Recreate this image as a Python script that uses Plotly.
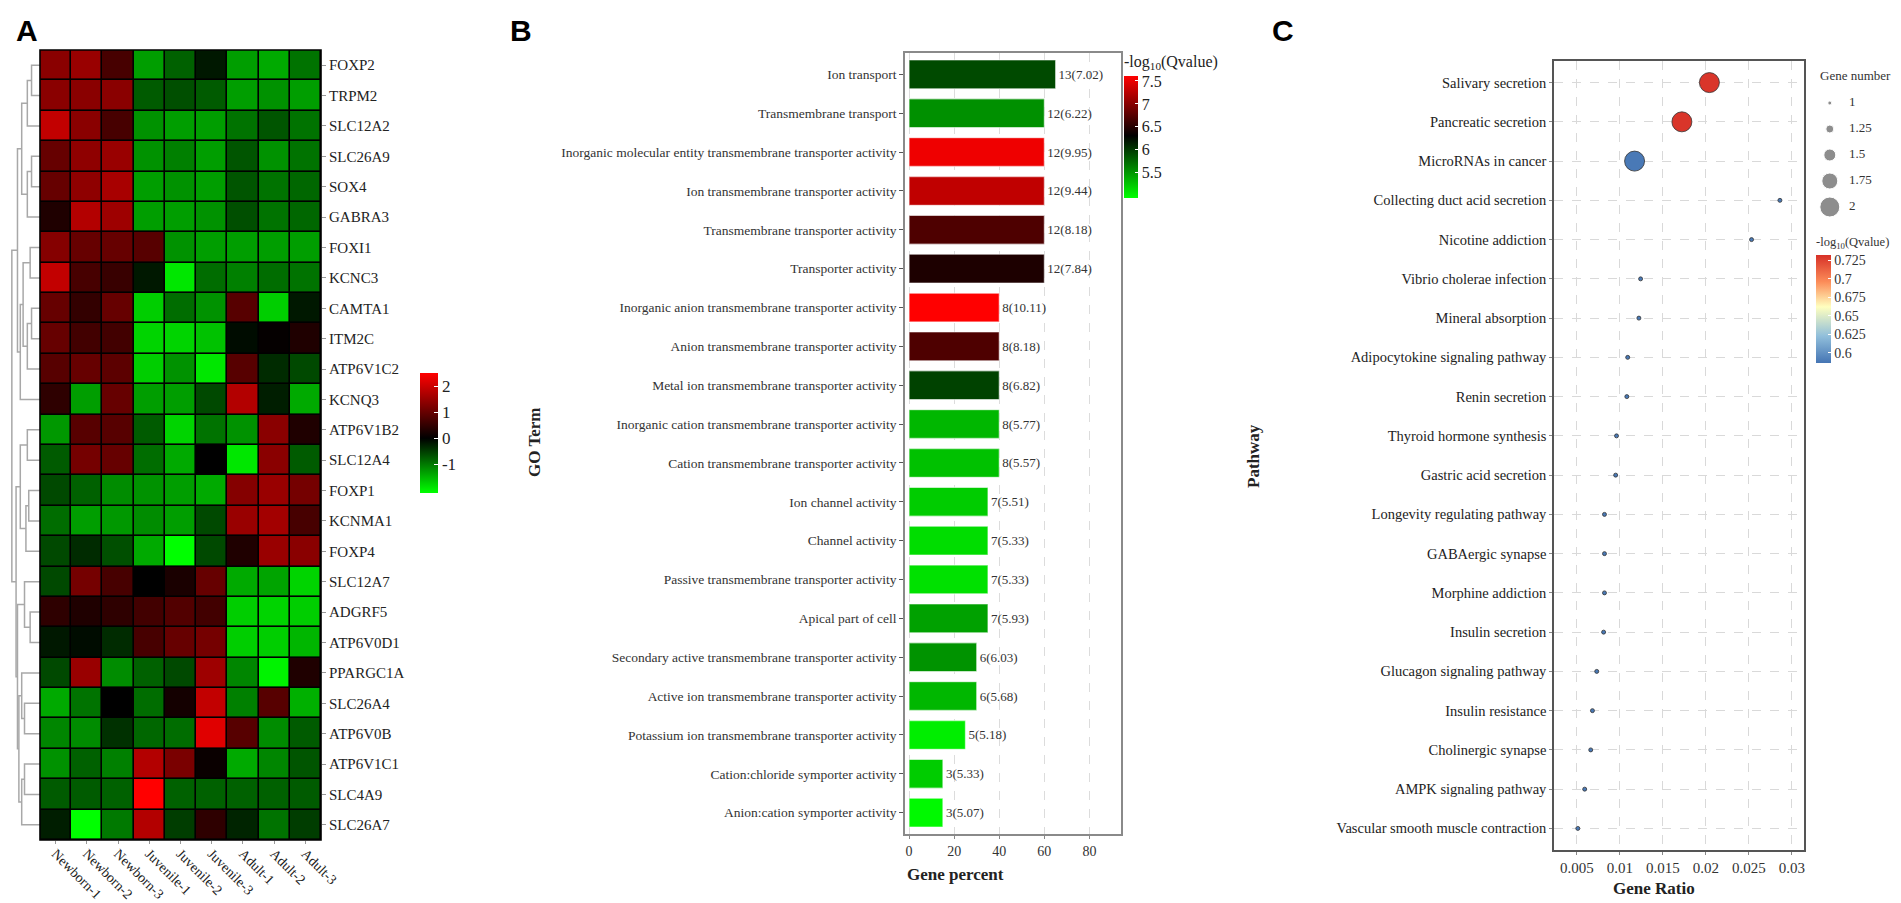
import plotly.graph_objects as go

W, H = 1901, 903
SERIF = "Liberation Serif, DejaVu Serif, serif"
SANS = "Liberation Sans, Arial, sans-serif"


def fx(p):
    return p / W


def fy(p):
    return 1 - p / H


# ---------------- Panel A: expression heatmap ----------------
samples = ["Newborn-1", "Newborn-2", "Newborn-3", "Juvenile-1", "Juvenile-2",
           "Juvenile-3", "Adult-1", "Adult-2", "Adult-3"]
genes = ["FOXP2", "TRPM2", "SLC12A2", "SLC26A9", "SOX4", "GABRA3", "FOXI1", "KCNC3",
         "CAMTA1", "ITM2C", "ATP6V1C2", "KCNQ3", "ATP6V1B2", "SLC12A4", "FOXP1", "KCNMA1",
         "FOXP4", "SLC12A7", "ADGRF5", "ATP6V0D1", "PPARGC1A", "SLC26A4", "ATP6V0B",
         "ATP6V1C1", "SLC4A9", "SLC26A7"]
expr = [
    [1.35, 1.5, 0.7, -1.3, -0.8, -0.2, -1.3, -1.4, -0.95],
    [1.35, 1.35, 1.35, -0.75, -0.65, -0.75, -1.3, -1.2, -1.3],
    [1.9, 1.35, 0.7, -1.2, -1.3, -1.3, -0.95, -0.7, -0.95],
    [1.0, 1.4, 1.5, -1.2, -1.05, -1.3, -0.7, -1.2, -0.95],
    [1.0, 1.4, 1.65, -1.3, -1.2, -1.3, -0.7, -0.95, -0.85],
    [0.3, 1.75, 1.55, -1.3, -1.3, -1.2, -0.65, -0.95, -0.85],
    [1.3, 1.0, 1.0, 0.85, -1.2, -1.3, -1.3, -1.3, -1.3],
    [1.9, 0.7, 0.55, -0.2, -1.9, -0.9, -1.05, -0.9, -0.95],
    [1.0, 0.5, 1.0, -1.7, -0.9, -1.2, 0.85, -1.7, -0.2],
    [1.0, 0.65, 0.65, -1.75, -1.75, -1.6, -0.1, 0.05, 0.3],
    [0.85, 1.0, 0.9, -1.7, -1.2, -1.9, 0.85, -0.35, -0.6],
    [0.45, -1.3, 1.0, -1.3, -1.3, -0.6, 1.75, -0.25, -1.4],
    [-1.25, 0.85, 0.85, -0.75, -1.75, -0.95, -1.2, 1.35, 0.3],
    [-0.75, 1.15, 1.0, -0.9, -1.4, 0.0, -1.9, 1.35, -0.75],
    [-0.6, -0.8, -1.15, -1.2, -1.3, -1.4, 1.3, 1.5, 1.15],
    [-0.9, -1.3, -1.25, -1.15, -1.3, -0.6, 1.5, 1.6, 0.7],
    [-0.6, -0.35, -0.65, -1.4, -2.1, -0.6, 0.3, 1.5, 1.35],
    [-0.6, 1.15, 0.7, 0.0, 0.25, 1.0, -1.4, -1.35, -1.75],
    [0.45, 0.3, 0.45, 0.65, 0.8, 0.65, -1.7, -1.75, -1.7],
    [-0.2, -0.1, -0.35, 0.7, 1.0, 1.15, -1.7, -1.7, -1.5],
    [-0.6, 1.5, -1.15, -0.8, -0.6, 1.55, -1.1, -2.0, 0.3],
    [-1.4, -0.95, 0.0, -0.9, 0.2, 1.9, -1.05, 0.85, -1.45],
    [-1.1, -1.15, -0.4, -0.85, -0.9, 2.2, 0.85, -1.15, -0.75],
    [-1.2, -0.8, -1.05, 1.75, 1.2, 0.1, -1.4, -1.1, -0.7],
    [-0.75, -0.75, -0.8, 2.5, -0.8, -0.8, -0.8, -0.8, -0.75],
    [-0.25, -2.15, -1.0, 1.75, -0.5, 0.45, -0.3, -0.95, -0.5],
]

# row clustering: (left, right, height); ints refer to earlier merges
row_merges = [
    ("FOXP2", "TRPM2", 3.0),
    (0, "SLC12A2", 4.5),
    ("SLC26A9", "SOX4", 3.0),
    (2, "GABRA3", 4.5),
    (1, 3, 6.5),
    ("FOXI1", "KCNC3", 3.5),
    ("CAMTA1", "ITM2C", 3.0),
    (6, "ATP6V1C2", 4.5),
    (5, 7, 6.0),
    (8, "KCNQ3", 7.0),
    (4, 9, 8.0),
    ("ATP6V1B2", "SLC12A4", 4.5),
    ("FOXP1", "KCNMA1", 4.0),
    (12, "FOXP4", 5.0),
    (11, 13, 7.0),
    ("ADGRF5", "ATP6V0D1", 3.5),
    ("SLC12A7", 15, 5.5),
    ("SLC26A4", "ATP6V0B", 5.5),
    ("PPARGC1A", 17, 6.5),
    ("ATP6V1C1", "SLC4A9", 5.5),
    (19, "SLC26A7", 6.5),
    (18, 20, 7.5),
    (16, 21, 8.0),
    (14, 22, 8.5),
    (10, 23, 10.0),
]

# ---------------- Panel B: GO enrichment ----------------
go_terms = ["Ion transport", "Transmembrane transport",
            "Inorganic molecular entity transmembrane transporter activity",
            "Ion transmembrane transporter activity", "Transmembrane transporter activity",
            "Transporter activity", "Inorganic anion transmembrane transporter activity",
            "Anion transmembrane transporter activity",
            "Metal ion transmembrane transporter activity",
            "Inorganic cation transmembrane transporter activity",
            "Cation transmembrane transporter activity", "Ion channel activity",
            "Channel activity", "Passive transmembrane transporter activity",
            "Apical part of cell", "Secondary active transmembrane transporter activity",
            "Active ion transmembrane transporter activity",
            "Potassium ion transmembrane transporter activity",
            "Cation:chloride symporter activity", "Anion:cation symporter activity"]
go_counts = [13, 12, 12, 12, 12, 12, 8, 8, 8, 8, 8, 7, 7, 7, 7, 6, 6, 5, 3, 3]
go_percent = [65, 60, 60, 60, 60, 60, 40, 40, 40, 40, 40, 35, 35, 35, 35, 30, 30, 25, 15, 15]
go_enrich = ["7.02", "6.22", "9.95", "9.44", "8.18", "7.84", "10.11", "8.18", "6.82", "5.77",
             "5.57", "5.51", "5.33", "5.33", "5.93", "6.03", "5.68", "5.18", "5.33", "5.07"]
go_neglogq = [5.91, 5.54, 7.52, 7.28, 6.7, 6.45, 7.6, 6.7, 5.95, 5.33,
              5.28, 5.22, 5.13, 5.11, 5.45, 5.52, 5.33, 5.04, 5.22, 4.98]

# ---------------- Panel C: KEGG bubble ----------------
pathways = ["Salivary secretion", "Pancreatic secretion", "MicroRNAs in cancer",
            "Collecting duct acid secretion", "Nicotine addiction", "Vibrio cholerae infection",
            "Mineral absorption", "Adipocytokine signaling pathway", "Renin secretion",
            "Thyroid hormone synthesis", "Gastric acid secretion", "Longevity regulating pathway",
            "GABAergic synapse", "Morphine addiction", "Insulin secretion",
            "Glucagon signaling pathway", "Insulin resistance", "Cholinergic synapse",
            "AMPK signaling pathway", "Vascular smooth muscle contraction"]
gene_ratio = [0.0204, 0.0172, 0.0117, 0.0286, 0.0253, 0.0124, 0.0122, 0.0109, 0.0108,
              0.0096, 0.0095, 0.0082, 0.0082, 0.0082, 0.0081, 0.0073, 0.0068, 0.0066,
              0.0059, 0.0051]
gene_number = [2, 2, 2, 1, 1, 1, 1, 1, 1, 1, 1, 1, 1, 1, 1, 1, 1, 1, 1, 1]
path_neglogq = [0.731, 0.731, 0.588, 0.588, 0.588, 0.588, 0.588, 0.588, 0.588, 0.588,
                0.588, 0.588, 0.588, 0.588, 0.588, 0.588, 0.588, 0.588, 0.588, 0.588]
size_levels = [1, 1.25, 1.5, 1.75, 2]


def dot_size(n):
    return 4 + 16 * (n - 1)


# dendrogram segments
dend_x, dend_y = [], []
nodes = []


def node_pos(ref):
    if isinstance(ref, str):
        return genes.index(ref), 0.0
    return nodes[ref]


for a, b, h in row_merges:
    ya, ha = node_pos(a)
    yb, hb = node_pos(b)
    dend_x += [ha, h, h, hb, None]
    dend_y += [ya, ya, yb, yb, None]
    nodes.append(((ya + yb) / 2, h))

fig = go.Figure()

grn_blk_red_A = [[0, "#00ff00"], [2.1 / 4.6, "#000000"], [1, "#ff0000"]]
fig.add_trace(go.Heatmap(
    z=expr, x=samples, y=genes, zmin=-2.1, zmax=2.5, colorscale=grn_blk_red_A,
    xgap=1.6, ygap=1.6, xaxis="x", yaxis="y", hoverinfo="skip",
    colorbar=dict(x=fx(412), xanchor="left", y=fy(425), yanchor="middle",
                  len=120 / H, thickness=18, outlinewidth=0, xpad=0, ypad=0,
                  tickvals=[-1, 0, 1, 2], ticktext=["-1", "0", "1", "2"],
                  ticks="inside", ticklen=4, tickcolor="white",
                  tickfont=dict(family=SERIF, size=17, color="#222")),
))
fig.add_trace(go.Scatter(x=dend_x, y=dend_y, mode="lines", xaxis="x2", yaxis="y2",
                         line=dict(color="#a8a8a8", width=1.5), hoverinfo="skip"))

grn_blk_red_B = [[0, "#00ff00"], [0.51, "#000000"], [1, "#ff0000"]]
go_labels = [f"{c}({e})" for c, e in zip(go_counts, go_enrich)]
fig.add_trace(go.Bar(
    x=go_percent, y=go_terms, orientation="h", xaxis="x3", yaxis="y3", width=0.74,
    text=go_labels, textposition="outside", cliponaxis=False,
    textfont=dict(family=SERIF, size=13, color="#333"),
    marker=dict(color=go_neglogq, colorscale=grn_blk_red_B, cmin=4.95, cmax=7.6,
                line=dict(color="rgba(255,255,255,0.55)", width=1.2),
                colorbar=dict(x=fx(1116), xanchor="left", y=fy(44), yanchor="top",
                              len=146 / H, thickness=14, outlinewidth=0, xpad=0, ypad=0,
                              title=dict(text="-log<sub>10</sub>(Qvalue)", side="top",
                                         font=dict(family=SERIF, size=16, color="#222")),
                              tickvals=[5.5, 6, 6.5, 7, 7.5], ticktext=["5.5", "6", "6.5", "7", "7.5"],
                              ticks="inside", ticklen=3, tickcolor="white",
                              tickfont=dict(family=SERIF, size=16, color="#222"))),
))

rdylbu = [[0, "#4575b4"], [0.25, "#91bfdb"], [0.52, "#ffffbf"], [0.75, "#fc8d59"], [1, "#d73027"]]
fig.add_trace(go.Scatter(
    x=gene_ratio, y=pathways, mode="markers", xaxis="x4", yaxis="y4",
    marker=dict(size=[dot_size(n) for n in gene_number], color=path_neglogq,
                colorscale=rdylbu, cmin=0.586, cmax=0.733, opacity=1,
                line=dict(color="#333", width=0.8),
                colorbar=dict(x=fx(1808), xanchor="left", y=fy(226), yanchor="top",
                              len=129 / H, thickness=15, outlinewidth=0, xpad=0, ypad=0,
                              title=dict(text="-log<sub>10</sub>(Qvalue)", side="top",
                                         font=dict(family=SERIF, size=12.5, color="#333")),
                              tickvals=[0.6, 0.625, 0.65, 0.675, 0.7, 0.725],
                              ticktext=["0.6", "0.625", "0.65", "0.675", "0.7", "0.725"],
                              ticks="inside", ticklen=3, tickcolor="white",
                              tickfont=dict(family=SERIF, size=14, color="#333"))),
))

# size legend for panel C
fig.add_trace(go.Scatter(
    x=[0.15] * len(size_levels), y=size_levels, mode="markers", xaxis="x5", yaxis="y5",
    marker=dict(size=[dot_size(n) for n in size_levels], color="#5e5e5e"), hoverinfo="skip"))
fig.add_trace(go.Scatter(
    x=[0.36] * len(size_levels), y=size_levels, mode="text", xaxis="x5", yaxis="y5",
    text=[f"{n:g}" for n in size_levels], textposition="middle right",
    textfont=dict(family=SERIF, size=13, color="#333"), hoverinfo="skip"))

tick_font = dict(family=SERIF, size=15, color="#222")
fig.update_layout(
    width=W, height=H, margin=dict(l=0, r=0, t=0, b=0, autoexpand=False),
    paper_bgcolor="white", plot_bgcolor="white", showlegend=False,
    xaxis=dict(domain=[fx(32), fx(313)], range=[-0.5, 8.5], tickangle=45, anchor="y",
               ticks="outside", ticklen=3, tickcolor="#999", ticklabelstandoff=-4,
               tickfont=dict(family=SERIF, size=14, color="#222"),
               showgrid=False, zeroline=False, automargin=False),
    yaxis=dict(domain=[fy(832), fy(42)], range=[25.5, -0.5], side="right", anchor="x",
               ticks="outside", ticklen=4, tickcolor="#999", tickfont=tick_font,
               showgrid=False, zeroline=False, automargin=False),
    xaxis2=dict(domain=[fx(3), fx(32)], range=[10.3, 0], visible=False, anchor="y2"),
    yaxis2=dict(domain=[fy(832), fy(42)], range=[25.5, -0.5], visible=False, anchor="x2"),
    xaxis3=dict(domain=[fx(897), fx(1113)], range=[-1.8, 94], tickvals=[0, 20, 40, 60, 80],
                anchor="y3", automargin=False,
                showgrid=True, gridcolor="#dcdcdc", griddash="dash", gridwidth=1,
                zeroline=False, showline=True, mirror=True, linecolor="#8a8a8a", linewidth=1.5,
                ticks="outside", ticklen=3, tickcolor="#888",
                tickfont=dict(family=SERIF, size=14, color="#333")),
    yaxis3=dict(domain=[fy(826), fy(45)], range=[19.55, -0.55], showgrid=False,
                anchor="x3", automargin=False,
                zeroline=False, showline=True, mirror=True, linecolor="#8a8a8a", linewidth=1.5,
                ticks="outside", ticklen=4, tickcolor="#555",
                tickfont=dict(family=SERIF, size=13.5, color="#333")),
    xaxis4=dict(domain=[fx(1546), fx(1796)], range=[0.00233, 0.0314],
                anchor="y4", automargin=False,
                tickvals=[0.005, 0.01, 0.015, 0.02, 0.025, 0.03],
                ticktext=["0.005", "0.01", "0.015", "0.02", "0.025", "0.03"],
                showgrid=True, gridcolor="#d9d9d9", griddash="dash", gridwidth=1,
                zeroline=False, showline=True, mirror=True, linecolor="#555", linewidth=1.5,
                ticks="outside", ticklen=3, tickcolor="#888",
                tickfont=dict(family=SERIF, size=15, color="#333")),
    yaxis4=dict(domain=[fy(842), fy(53)], range=[19.55, -0.55],
                anchor="x4", automargin=False,
                showgrid=True, gridcolor="#d9d9d9", griddash="dash", gridwidth=1,
                zeroline=False, showline=True, mirror=True, linecolor="#555", linewidth=1.5,
                ticks="outside", ticklen=3, tickcolor="#888",
                tickfont=dict(family=SERIF, size=14.5, color="#222")),
    xaxis5=dict(domain=[fx(1808), fx(1900)], range=[0, 1], visible=False, anchor="y5"),
    yaxis5=dict(domain=[fy(225), fy(69)], range=[2.25, 0.75], visible=False, anchor="x5"),
)

# black cell borders / frame behind the heatmap
fig.add_shape(type="rect", xref="x domain", yref="y domain", x0=0, x1=1, y0=0, y1=1,
              fillcolor="black", line=dict(width=0), layer="below")
fig.add_shape(type="rect", xref="x domain", yref="y domain", x0=0, x1=1, y0=0, y1=1,
              line=dict(color="black", width=1.6))

annots = [
    dict(text="<b>A</b>", x=fx(6), y=fy(4), font=dict(family=SANS, size=30, color="black"),
         xanchor="left", yanchor="top"),
    dict(text="<b>B</b>", x=fx(500), y=fy(4), font=dict(family=SANS, size=30, color="black"),
         xanchor="left", yanchor="top"),
    dict(text="<b>C</b>", x=fx(1262), y=fy(4), font=dict(family=SANS, size=30, color="black"),
         xanchor="left", yanchor="top"),
    dict(text="<b>GO Term</b>", x=fx(527), y=fy(435), textangle=-90,
         font=dict(family=SERIF, size=17, color="#222"), xanchor="center", yanchor="middle"),
    dict(text="<b>Gene percent</b>", x=fx(947), y=fy(866),
         font=dict(family=SERIF, size=17, color="#222"), xanchor="center", yanchor="middle"),
    dict(text="<b>Pathway</b>", x=fx(1245), y=fy(448), textangle=-90,
         font=dict(family=SERIF, size=17, color="#222"), xanchor="center", yanchor="middle"),
    dict(text="<b>Gene Ratio</b>", x=fx(1646), y=fy(880),
         font=dict(family=SERIF, size=17, color="#222"), xanchor="center", yanchor="middle"),
    dict(text="Gene number", x=fx(1810), y=fy(68),
         font=dict(family=SERIF, size=13, color="#333"), xanchor="left", yanchor="middle"),
]
for a in annots:
    a.update(xref="paper", yref="paper", showarrow=False)
fig.update_layout(annotations=annots)

fig.write_html("out.html")
